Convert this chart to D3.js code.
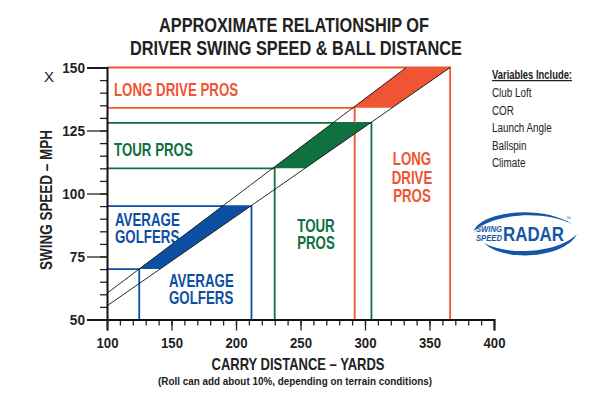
<!DOCTYPE HTML>
<html>
<head>
<meta content="text/html;charset=utf-8" http-equiv="Content-Type">
<script type="text/javascript" src="https://d3js.org/d3.v7.min.js"></script>
<style>
  body { margin: 0; background: #fff; }
  text { font-family: "Liberation Sans", Arial, sans-serif; }
</style>
</head>
<body>
<div id="chart"></div>
<script type="text/javascript">
// groups of golfers: swing speed range (mph) and carry range (yards)
var groups = ["AVERAGE GOLFERS", "TOUR PROS", "LONG DRIVE PROS"];
var speedLow = [70, 110, 134];
var speedHigh = [95, 128, 150];
var carryLow = [125, 230, 292];
var carryHigh = [212, 305, 366];

// the two diagonal reference lines [carry, speed]
var upperLine = [[100, 60.4], [332, 150]];
var lowerLine = [[100, 55.4], [366, 150]];

var xTicks = [100, 150, 200, 250, 300, 350, 400];
var yTicks = [50, 75, 100, 125, 150];
var variables = ["Club Loft", "COR", "Launch Angle", "Ballspin", "Climate"];

var colors = ["#0d4fa2", "#0f7040", "#ef5534"];

var W = 600, H = 399;
var svg = d3.select("#chart").append("svg").attr("width", W).attr("height", H);

var x = d3.scaleLinear().domain([100, 400]).range([107, 494]);
var y = d3.scaleLinear().domain([50, 150]).range([319.5, 67.5]);

// carry at a given speed along a reference line
function carryAt(line, s) {
  var a = line[0], b = line[1];
  return a[0] + (s - a[1]) * (b[0] - a[0]) / (b[1] - a[1]);
}

// the original uses a condensed face, so squeeze the glyphs
function squeeze(sel, f) {
  sel.each(function() {
    var L = this.getComputedTextLength();
    d3.select(this).attr("textLength", L * f).attr("lengthAdjust", "spacingAndGlyphs");
  });
  return sel;
}
function fit(sel, w) {
  sel.attr("textLength", w).attr("lengthAdjust", "spacingAndGlyphs");
  return sel;
}

// title
fit(svg.append("text").attr("x", 294).attr("y", 32).attr("text-anchor", "middle")
  .attr("font-size", 20).attr("font-weight", "bold").attr("fill", "#222")
  .text("APPROXIMATE RELATIONSHIP OF"), 270);
fit(svg.append("text").attr("x", 296).attr("y", 55).attr("text-anchor", "middle")
  .attr("font-size", 20).attr("font-weight", "bold").attr("fill", "#222")
  .text("DRIVER SWING SPEED & BALL DISTANCE"), 332);

// range boxes
var boxes = svg.append("g").attr("fill", "none").attr("stroke-width", 1.8);
groups.forEach(function(g, i) {
  var c = colors[i];
  boxes.append("path").attr("stroke", c)
    .attr("d", "M" + x(100) + "," + y(speedHigh[i]) + "H" + x(carryHigh[i]) + "V" + y(50));
  boxes.append("path").attr("stroke", c)
    .attr("d", "M" + x(100) + "," + y(speedLow[i]) + "H" + x(carryLow[i]) + "V" + y(50));
});

// filled bands between the diagonals
groups.forEach(function(g, i) {
  var pts = [
    [carryAt(upperLine, speedLow[i]), speedLow[i]],
    [carryAt(lowerLine, speedLow[i]), speedLow[i]],
    [carryAt(lowerLine, speedHigh[i]), speedHigh[i]],
    [carryAt(upperLine, speedHigh[i]), speedHigh[i]]
  ];
  svg.append("polygon").attr("fill", colors[i])
    .attr("points", pts.map(function(p) { return x(p[0]) + "," + y(p[1]); }).join(" "));
});

// diagonals
var line = d3.line().x(function(d) { return x(d[0]); }).y(function(d) { return y(d[1]); });
[upperLine, lowerLine].forEach(function(l) {
  svg.append("path").attr("d", line(l)).attr("fill", "none").attr("stroke", "#111").attr("stroke-width", 0.9);
});

// axes
var yMinor = svg.append("g").attr("transform", "translate(" + x(100) + ",0)")
  .call(d3.axisLeft(y).tickValues(d3.range(50, 151, 5)).tickSize(7).tickFormat(""));
var yMajor = svg.append("g").attr("transform", "translate(" + x(100) + ",0)")
  .call(d3.axisLeft(y).tickValues(yTicks).tickSize(20).tickPadding(2));
var xMinor = svg.append("g").attr("transform", "translate(0," + y(50) + ")")
  .call(d3.axisBottom(x).tickValues(d3.range(100, 401, 10)).tickSize(6).tickFormat(""));
var xMajor = svg.append("g").attr("transform", "translate(0," + y(50) + ")")
  .call(d3.axisBottom(x).tickValues(xTicks).tickSize(11).tickPadding(4));

[yMinor, yMajor, xMinor, xMajor].forEach(function(a) {
  a.selectAll(".domain").attr("stroke", "#111").attr("stroke-width", 2);
  a.selectAll(".tick line").attr("stroke", "#222").attr("stroke-width", 1.3);
  a.selectAll(".tick text").attr("font-size", 15.5).attr("font-weight", "bold").attr("fill", "#222")
    .attr("font-family", "'Liberation Sans', Arial, sans-serif");
});
yMinor.selectAll(".domain").remove();
xMinor.selectAll(".domain").remove();
xMajor.selectAll(".tick text").attr("dy", "0.9em");
squeeze(yMajor.selectAll(".tick text"), 0.88);
squeeze(xMajor.selectAll(".tick text"), 0.85);

// axis titles
fit(svg.append("text").attr("transform", "translate(52,200) rotate(-90)").attr("text-anchor", "middle")
  .attr("font-size", 17).attr("font-weight", "bold").attr("fill", "#222")
  .text("SWING SPEED \u2013 MPH"), 140);
svg.append("text").attr("x", 49).attr("y", 82).attr("text-anchor", "middle")
  .attr("font-size", 15).attr("fill", "#222").text("X");
fit(svg.append("text").attr("x", 298).attr("y", 370).attr("text-anchor", "middle")
  .attr("font-size", 17).attr("font-weight", "bold").attr("fill", "#222")
  .text("CARRY DISTANCE \u2013 YARDS"), 173);
fit(svg.append("text").attr("x", 295).attr("y", 385).attr("text-anchor", "middle")
  .attr("font-size", 11.5).attr("font-weight", "bold").attr("fill", "#222")
  .text("(Roll can add about 10%, depending on terrain conditions)"), 274);

// labels inside the plot, several lines go in one text as tspans
function label(lines, px, py, anchor, c, f, gap) {
  var t = svg.append("text").attr("text-anchor", anchor)
    .attr("font-size", 17.5).attr("font-weight", "bold").attr("fill", c);
  lines.forEach(function(s, k) {
    var ts = t.append("tspan").attr("x", px).attr("y", py + k * gap).text(s);
    squeeze(ts, f);
  });
}
label(["LONG DRIVE PROS"], 114, 96, "start", colors[2], 0.76, 0);
label(["TOUR PROS"], 114, 156, "start", colors[1], 0.76, 0);
label(["AVERAGE", "GOLFERS"], 115, 226, "start", colors[0], 0.76, 16.5);
label(["AVERAGE", "GOLFERS"], 169, 287, "start", colors[0], 0.76, 16.5);
label(["TOUR", "PROS"], 316, 232, "middle", colors[1], 0.76, 16.5);
label(["LONG", "DRIVE", "PROS"], 412, 165, "middle", colors[2], 0.76, 18.5);

// variables box
fit(svg.append("text").attr("x", 492).attr("y", 79).attr("font-size", 12.5).attr("font-weight", "bold")
  .attr("fill", "#222").attr("text-decoration", "underline").text("Variables Include:"), 80);
variables.forEach(function(v, k) {
  squeeze(svg.append("text").attr("x", 492).attr("y", 97 + k * 17.5).attr("font-size", 12)
    .attr("fill", "#222").text(v), 0.82);
});

// Swing Speed Radar logo
var logo = svg.append("g").attr("fill", "#1456a8");
logo.append("path").attr("d", "M474,231 C480,212 540,204 572,224 C545,210 495,213 474,231 Z");
logo.append("path").attr("d", "M484,243 C505,263 565,258 577,234 C560,252 510,257 484,243 Z");
var ss = logo.append("text").attr("font-size", 8.5).attr("font-weight", "bold").attr("font-style", "italic");
fit(ss.append("tspan").attr("x", 476).attr("y", 232).text("SWING"), 26);
fit(ss.append("tspan").attr("x", 476).attr("y", 240.5).text("SPEED"), 26);
fit(logo.append("text").attr("x", 503).attr("y", 241).attr("font-size", 21).attr("font-weight", "bold")
  .text("RADAR"), 61);
logo.append("text").attr("x", 566).attr("y", 220).attr("font-size", 5).text("\u2122");
</script>
</body>
</html>
